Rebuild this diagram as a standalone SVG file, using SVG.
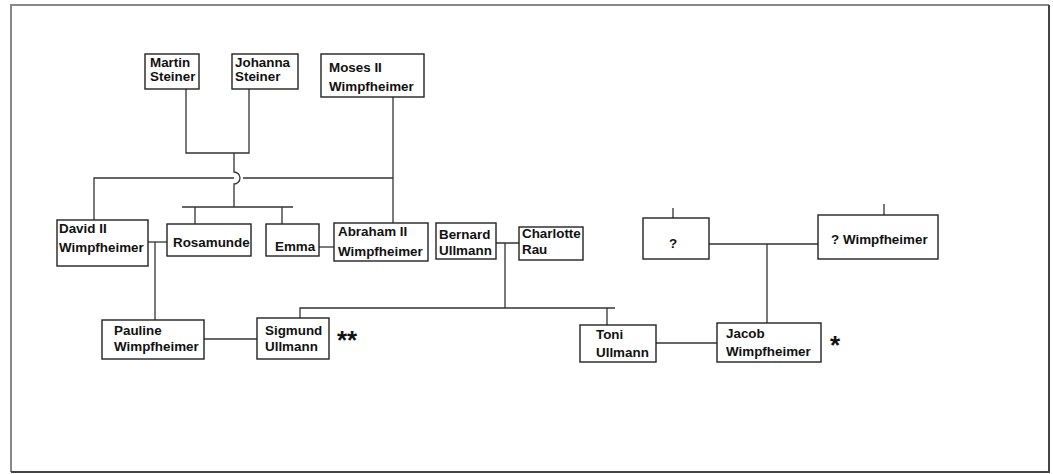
<svg xmlns="http://www.w3.org/2000/svg" width="1053" height="474" viewBox="0 0 1053 474">
  <style>
    .box { fill: #fff; stroke: #222; stroke-width: 1.4; }
    .lbl { font-family: "Liberation Sans", Arial, sans-serif; font-weight: bold; font-size: 13.4px; fill: #111; }
    .mark { font-family: "Liberation Sans", Arial, sans-serif; font-weight: bold; font-size: 26px; fill: #111; }
    #connectors path { fill: none; stroke: #333; stroke-width: 1.3; }
  </style>
  <rect width="1053" height="474" fill="#fff"/>
  <!-- page frame -->
  <path d="M11,472 V5 H1049" fill="none" stroke="#888" stroke-width="2"/>
  <path d="M11,472 H1049 V5" fill="none" stroke="#444" stroke-width="2"/>

  <g id="connectors">
    <!-- Steiner couple -->
    <path d="M186,89 V153 H249 V89"/>
    <path d="M234,153 V172 A6,6 0 0 1 234,184 V207"/>
    <path d="M182,207 H293 M195,207 V224 M282,207 V224"/>
    <!-- Moses II line to David II and Abraham II -->
    <path d="M94,220 V178 H234 M243,178 H393"/>
    <path d="M393,97 V223"/>
    <!-- marriages -->
    <path d="M148,242 H167"/>
    <path d="M319,247 H334"/>
    <path d="M155,242 V320"/>
    <path d="M496,243 H519 M505,243 V308"/>
    <path d="M300,318 V308 H615 M607,308 V325"/>
    <path d="M204,339 H257"/>
    <path d="M656,343 H717"/>
    <!-- Jacob's parents -->
    <path d="M673,208 V218 M884,204 V215"/>
    <path d="M709,244 H818 M767,244 V323"/>
  </g>

  <g id="martin-steiner">
    <rect class="box" x="145" y="54" width="54" height="35"/>
    <text class="lbl" x="150" y="67">Martin</text>
    <text class="lbl" x="150" y="81">Steiner</text>
  </g>
  <g id="johanna-steiner">
    <rect class="box" x="232" y="54" width="66" height="35"/>
    <text class="lbl" x="235" y="67">Johanna</text>
    <text class="lbl" x="235" y="81">Steiner</text>
  </g>
  <g id="moses-ii">
    <rect class="box" x="321" y="54" width="103" height="43"/>
    <text class="lbl" x="329" y="72">Moses II</text>
    <text class="lbl" x="329" y="91">Wimpfheimer</text>
  </g>
  <g id="david-ii">
    <rect class="box" x="57" y="220" width="91" height="46"/>
    <text class="lbl" x="59" y="233">David II</text>
    <text class="lbl" x="59" y="252">Wimpfheimer</text>
  </g>
  <g id="rosamunde">
    <rect class="box" x="167" y="224" width="84" height="32"/>
    <text class="lbl" x="173" y="247">Rosamunde</text>
  </g>
  <g id="emma">
    <rect class="box" x="266" y="224" width="53" height="32"/>
    <text class="lbl" x="275" y="251">Emma</text>
  </g>
  <g id="abraham-ii">
    <rect class="box" x="334" y="223" width="94" height="38"/>
    <text class="lbl" x="338" y="236">Abraham II</text>
    <text class="lbl" x="338" y="256">Wimpfheimer</text>
  </g>
  <g id="bernard-ullmann">
    <rect class="box" x="436" y="223" width="60" height="36"/>
    <text class="lbl" x="439" y="239">Bernard</text>
    <text class="lbl" x="439" y="255">Ullmann</text>
  </g>
  <g id="charlotte-rau">
    <rect class="box" x="519" y="227" width="64" height="33"/>
    <text class="lbl" x="522" y="238">Charlotte</text>
    <text class="lbl" x="522" y="254">Rau</text>
  </g>
  <g id="pauline">
    <rect class="box" x="102" y="320" width="102" height="39"/>
    <text class="lbl" x="114" y="335">Pauline</text>
    <text class="lbl" x="114" y="351">Wimpfheimer</text>
  </g>
  <g id="sigmund">
    <rect class="box" x="257" y="318" width="72" height="41"/>
    <text class="lbl" x="265" y="335">Sigmund</text>
    <text class="lbl" x="265" y="351">Ullmann</text>
    <text class="mark" x="337" y="349">**</text>
  </g>
  <g id="unknown">
    <rect class="box" x="643" y="218" width="66" height="41"/>
    <text class="lbl" x="669" y="248">?</text>
  </g>
  <g id="unknown-wimpfheimer">
    <rect class="box" x="818" y="215" width="120" height="44"/>
    <text class="lbl" x="831" y="244">? Wimpfheimer</text>
  </g>
  <g id="toni">
    <rect class="box" x="580" y="325" width="76" height="37"/>
    <text class="lbl" x="596" y="339">Toni</text>
    <text class="lbl" x="596" y="357">Ullmann</text>
  </g>
  <g id="jacob">
    <rect class="box" x="717" y="323" width="104" height="39"/>
    <text class="lbl" x="726" y="338">Jacob</text>
    <text class="lbl" x="726" y="356">Wimpfheimer</text>
    <text class="mark" x="830" y="354">*</text>
  </g>
</svg>
